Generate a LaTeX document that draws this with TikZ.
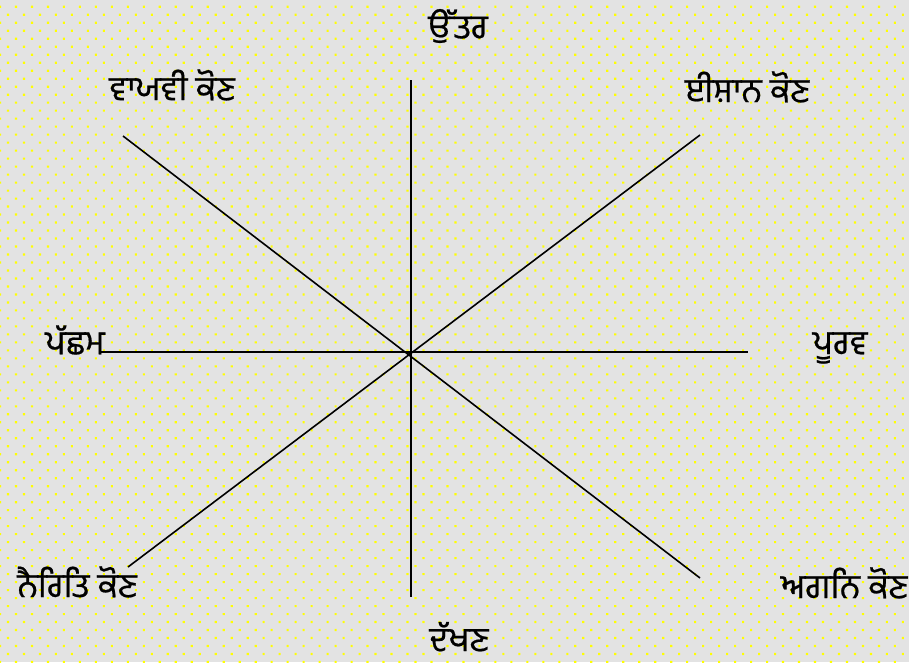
\documentclass[tikz,border=0pt]{standalone}
\usepackage{fontspec}
\newfontfamily\gurfont[Script=Gurmukhi,FakeBold=0.6]{Hind Jalandhar}
\usetikzlibrary{patterns.meta}
\definecolor{bggray}{HTML}{E3E3E3}
\definecolor{dotyellow}{HTML}{FFFF00}
\tikzset{
  lbl/.style={font=\gurfont\fontsize{34}{38}\selectfont, inner sep=0pt, text=black},
  axis/.style={line width=1.6pt, draw=black}
}
\begin{document}
\begin{tikzpicture}[x=1pt,y=-1pt]
\useasboundingbox (0,0) rectangle (909,662);
\fill[bggray] (0,0) rectangle (909,662);
\fill[pattern={Dots[radius=1.5pt, distance=11.3pt, angle=45]}, pattern color=dotyellow] (0,0) rectangle (909,662);
% coordinates
\coordinate (N) at (411,80);
\coordinate (S) at (411,597);
\coordinate (W) at (99,352);
\coordinate (E) at (748,352);
\coordinate (NW) at (123,136);
\coordinate (SE) at (700,578);
\coordinate (NE) at (700,135);
\coordinate (SW) at (128,567);
\coordinate (C) at (410,353);
% lines
\draw[axis] (N) -- (S);
\draw[axis] (W) -- (E);
\draw[axis] (NW) -- (SE);
\draw[axis] (NE) -- (SW);
\fill[black] (C) circle (2);
% labels
\node[lbl] (north) at (458,26) {ਉੱਤਰ};
\node[lbl] (nw) at (172,85) {ਵਾਯਵੀ ਕੋਣ};
\node[lbl] (ne) at (747,87) {ਈਸ਼ਾਨ ਕੋਣ};
\node[lbl] (west) at (75,340) {ਪੱਛਮ};
\node[lbl] (east) at (840,348) {ਪੂਰਵ};
\node[lbl] (sw) at (77,582) {ਨੈਰਿਤਿ ਕੋਣ};
\node[lbl] (se) at (844,583) {ਅਗਨਿ ਕੋਣ};
\node[lbl, text depth=0pt, anchor=base] (south) at (459,651) {ਦੱਖਣ};
\end{tikzpicture}
\end{document}
